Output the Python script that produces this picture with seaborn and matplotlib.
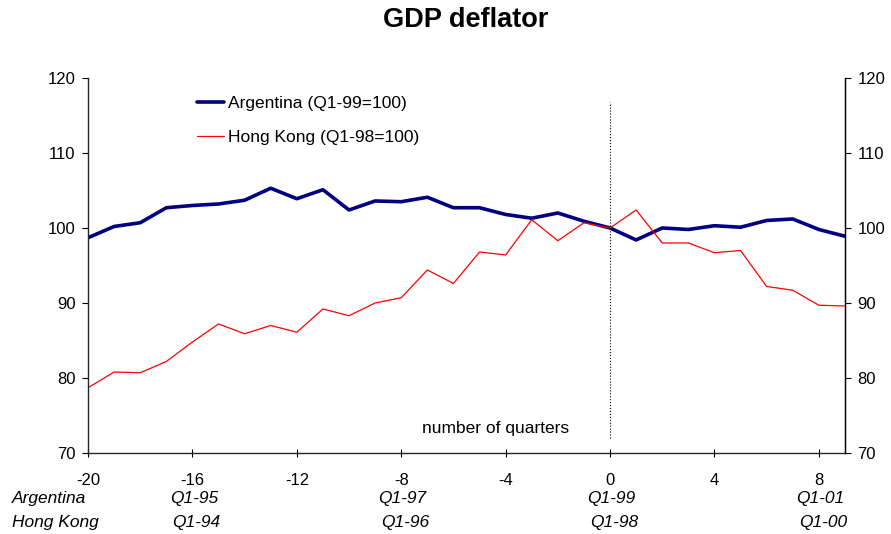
import numpy as np
import pandas as pd
import matplotlib.pyplot as plt
import seaborn as sns
from matplotlib.transforms import blended_transform_factory

# ======= data =======
quarters = list(range(-20, 10))
argentina = [98.7, 100.2, 100.7, 102.7, 103.0, 103.2, 103.7, 105.3, 103.9, 105.1,
             102.4, 103.6, 103.5, 104.1, 102.7, 102.7, 101.8, 101.3, 102.0, 100.9,
             100.0, 98.4, 100.0, 99.8, 100.3, 100.1, 101.0, 101.2, 99.8, 98.9]
hong_kong = [78.7, 80.8, 80.7, 82.2, 84.8, 87.2, 85.9, 87.0, 86.1, 89.2,
             88.3, 90.0, 90.7, 94.4, 92.6, 96.8, 96.4, 101.1, 98.3, 100.7,
             100.0, 102.4, 98.0, 98.0, 96.7, 97.0, 92.2, 91.7, 89.7, 89.6]
date_pos = [-16, -8, 0, 8]
arg_dates = ['Q1-95', 'Q1-97', 'Q1-99', 'Q1-01']
hk_dates = ['Q1-94', 'Q1-96', 'Q1-98', 'Q1-00']

df = pd.DataFrame({'q': quarters, 'arg': argentina, 'hk': hong_kong})

sns.set_style("ticks")
plt.rcParams['font.family'] = ['Liberation Sans', 'DejaVu Sans']
plt.rcParams['axes.unicode_minus'] = False
plt.rcParams['text.color'] = 'black'
plt.rcParams['xtick.color'] = 'black'
plt.rcParams['ytick.color'] = 'black'
plt.rcParams['axes.labelcolor'] = 'black'

FS = 12.5

fig = plt.figure(figsize=(8.91, 5.34), dpi=100)
ax = fig.add_axes([0.0988, 0.1517, 0.8495, 0.7023])

sns.lineplot(data=df, x='q', y='arg', color='#000080', linewidth=2.6,
             label='Argentina (Q1-99=100)', ax=ax)
sns.lineplot(data=df, x='q', y='hk', color='#FF0000', linewidth=0.9,
             label='Hong Kong (Q1-98=100)', ax=ax)

ax.set_xlim(-20, 9)
ax.set_ylim(70, 120)
ax.set_xticks(range(-20, 9, 4))
ax.set_yticks(range(70, 121, 10))
ax.set_xlabel('')
ax.set_ylabel('')
ax.tick_params(axis='x', direction='inout', length=6, labelsize=12, pad=11.5)
ax.tick_params(axis='y', direction='out', length=4, labelsize=12, pad=5)
for s in ['left', 'bottom', 'right']:
    ax.spines[s].set_color('black')
    ax.spines[s].set_linewidth(0.9)
ax.spines['top'].set_visible(False)

ax2 = ax.twinx()
ax2.set_ylim(70, 120)
ax2.set_yticks(range(70, 121, 10))
ax2.tick_params(axis='y', direction='out', length=4, labelsize=12, pad=5)
ax2.spines['top'].set_visible(False)
ax2.spines['right'].set_color('black')
ax2.spines['right'].set_linewidth(0.9)

# dotted reference line at 0
ax.plot([0, 0], [72.0, 116.8], linestyle=':', color='black', linewidth=0.8)
ax.text(-4.4, 73.2, 'number of quarters', fontsize=FS, ha='center', va='center')

leg = ax.legend(loc='upper left', bbox_to_anchor=(0.123, 0.995), frameon=False,
                fontsize=FS, handlelength=1.55, handletextpad=0.25, labelspacing=1.12)

# date rows under the axis
tr = blended_transform_factory(ax.transData, fig.transFigure)
fig.text(0.013, 1 - 499 / 534, 'Argentina', style='italic', fontsize=FS, va='center')
fig.text(0.013, 1 - 523 / 534, 'Hong Kong', style='italic', fontsize=FS, va='center')
for p, a, h in zip(date_pos, arg_dates, hk_dates):
    ax.text(p + 0.05, 1 - 499 / 534, a, transform=tr, style='italic', fontsize=FS,
            ha='center', va='center')
    ax.text(p + 0.15, 1 - 523 / 534, h, transform=tr, style='italic', fontsize=FS,
            ha='center', va='center')

fig.text(466 / 891, 1 - 20 / 534, 'GDP deflator', fontsize=19.5, fontweight='bold',
         ha='center', va='center')

plt.savefig('out.png', dpi=100)
